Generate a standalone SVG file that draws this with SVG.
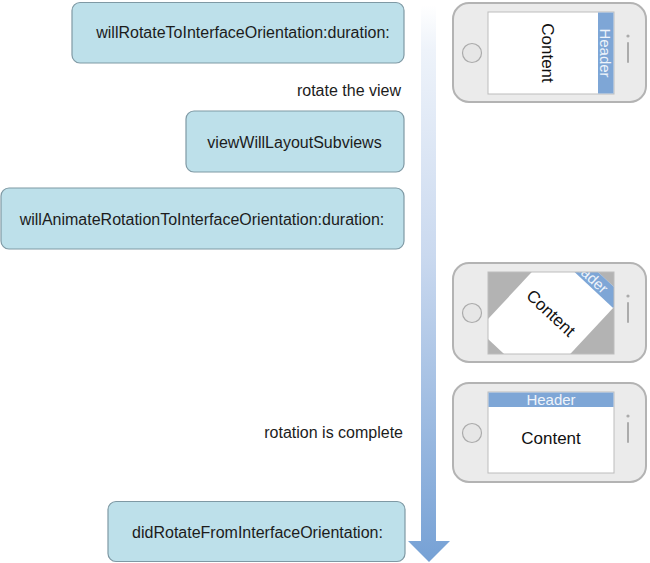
<svg xmlns="http://www.w3.org/2000/svg" width="650" height="563" viewBox="0 0 650 563">
<style>
.box{fill:#bde0ea;stroke:#7f99a4;stroke-width:1.2}
.t{font-family:"Liberation Sans",Arial,sans-serif;font-size:16px;fill:#1c1c1c}
.lbl{font-family:"Liberation Sans",Arial,sans-serif;font-size:16px;fill:#1c1c1c;text-anchor:end}
.body{fill:#ebebeb;stroke:#b3b3b3;stroke-width:2}
.scr{fill:#ffffff;stroke:#bdbdbd;stroke-width:1}
.home{fill:#e6e6e6;stroke:#ababab;stroke-width:1.2}
.spk{stroke:#ababab;stroke-width:2;stroke-linecap:round;fill:none}
.hdr{fill:#7ea6d6}
.ht{font-family:"Liberation Sans",Arial,sans-serif;font-size:15px;fill:#eef4fb;text-anchor:middle}
.ct{font-family:"Liberation Sans",Arial,sans-serif;font-size:17px;fill:#111;text-anchor:middle}
</style>
<defs>
<linearGradient id="ag" gradientUnits="userSpaceOnUse" x1="0" y1="5" x2="0" y2="562">
<stop offset="0" stop-color="#ffffff"/>
<stop offset="0.08" stop-color="#eef3fa"/>
<stop offset="0.45" stop-color="#cad9ef"/>
<stop offset="1" stop-color="#76a1d5"/>
</linearGradient>
<g id="phone">
<rect class="body" x="0" y="0" width="193" height="99" rx="16"/>
<circle class="home" cx="19" cy="50" r="9.5"/>
<circle cx="175" cy="33" r="1.6" fill="#ababab"/>
<line class="spk" x1="175" y1="40" x2="175" y2="59"/>
</g>
<clipPath id="clip2"><rect x="488" y="272" width="126" height="82"/></clipPath>
</defs>

<g id="connectors">
<path d="M421,5 H436 V541 H450 L429,562 L408,541 H421 Z" fill="url(#ag)"/>
</g>

<g id="box-willRotate">
<rect class="box" x="72" y="2.5" width="332" height="60.5" rx="8"/>
<text class="t" x="243" y="38" text-anchor="middle">willRotateToInterfaceOrientation:duration:</text>
</g>
<g id="label-rotate">
<text class="lbl" x="401" y="96">rotate the view</text>
</g>
<g id="box-viewWillLayout">
<rect class="box" x="186" y="111" width="218" height="61" rx="8"/>
<text class="t" x="294.5" y="147.5" text-anchor="middle">viewWillLayoutSubviews</text>
</g>
<g id="box-willAnimate">
<rect class="box" x="1" y="188" width="403" height="61" rx="8"/>
<text class="t" x="202" y="224.5" text-anchor="middle">willAnimateRotationToInterfaceOrientation:duration:</text>
</g>
<g id="label-complete">
<text class="lbl" x="403" y="438">rotation is complete</text>
</g>
<g id="box-didRotate">
<rect class="box" x="108" y="501.5" width="297" height="60" rx="8"/>
<text class="t" x="257.5" y="537.5" text-anchor="middle">didRotateFromInterfaceOrientation:</text>
</g>

<g id="phone-before">
<use href="#phone" x="453" y="3"/>
<rect class="scr" x="488" y="12" width="126" height="82"/>
<rect class="hdr" x="598" y="12.5" width="15.5" height="81"/>
<text class="ht" transform="translate(605.8,53) rotate(90)" y="5.5">Header</text>
<text class="ct" transform="translate(548,53) rotate(90)" y="6">Content</text>
</g>

<g id="phone-rotating">
<use href="#phone" x="453" y="263"/>
<rect x="488" y="272" width="126" height="82" fill="#b3b3b3"/>
<g clip-path="url(#clip2)">
<g transform="translate(551,313) rotate(43)">
<rect x="-42" y="-62" width="84" height="124" fill="#ffffff"/>
<rect class="hdr" x="-42" y="-62" width="84" height="16"/>
<text class="ht" x="0" y="-48.5">Header</text>
<text class="ct" x="0" y="6">Content</text>
</g>
</g>
<rect x="488" y="272" width="126" height="82" fill="none" stroke="#bdbdbd" stroke-width="1"/>
</g>

<g id="phone-after">
<use href="#phone" x="453" y="383"/>
<rect class="scr" x="488" y="392" width="126" height="81"/>
<rect class="hdr" x="488.5" y="392.5" width="125" height="14.5"/>
<text class="ht" x="551" y="405">Header</text>
<text class="ct" x="551" y="444">Content</text>
</g>
</svg>
